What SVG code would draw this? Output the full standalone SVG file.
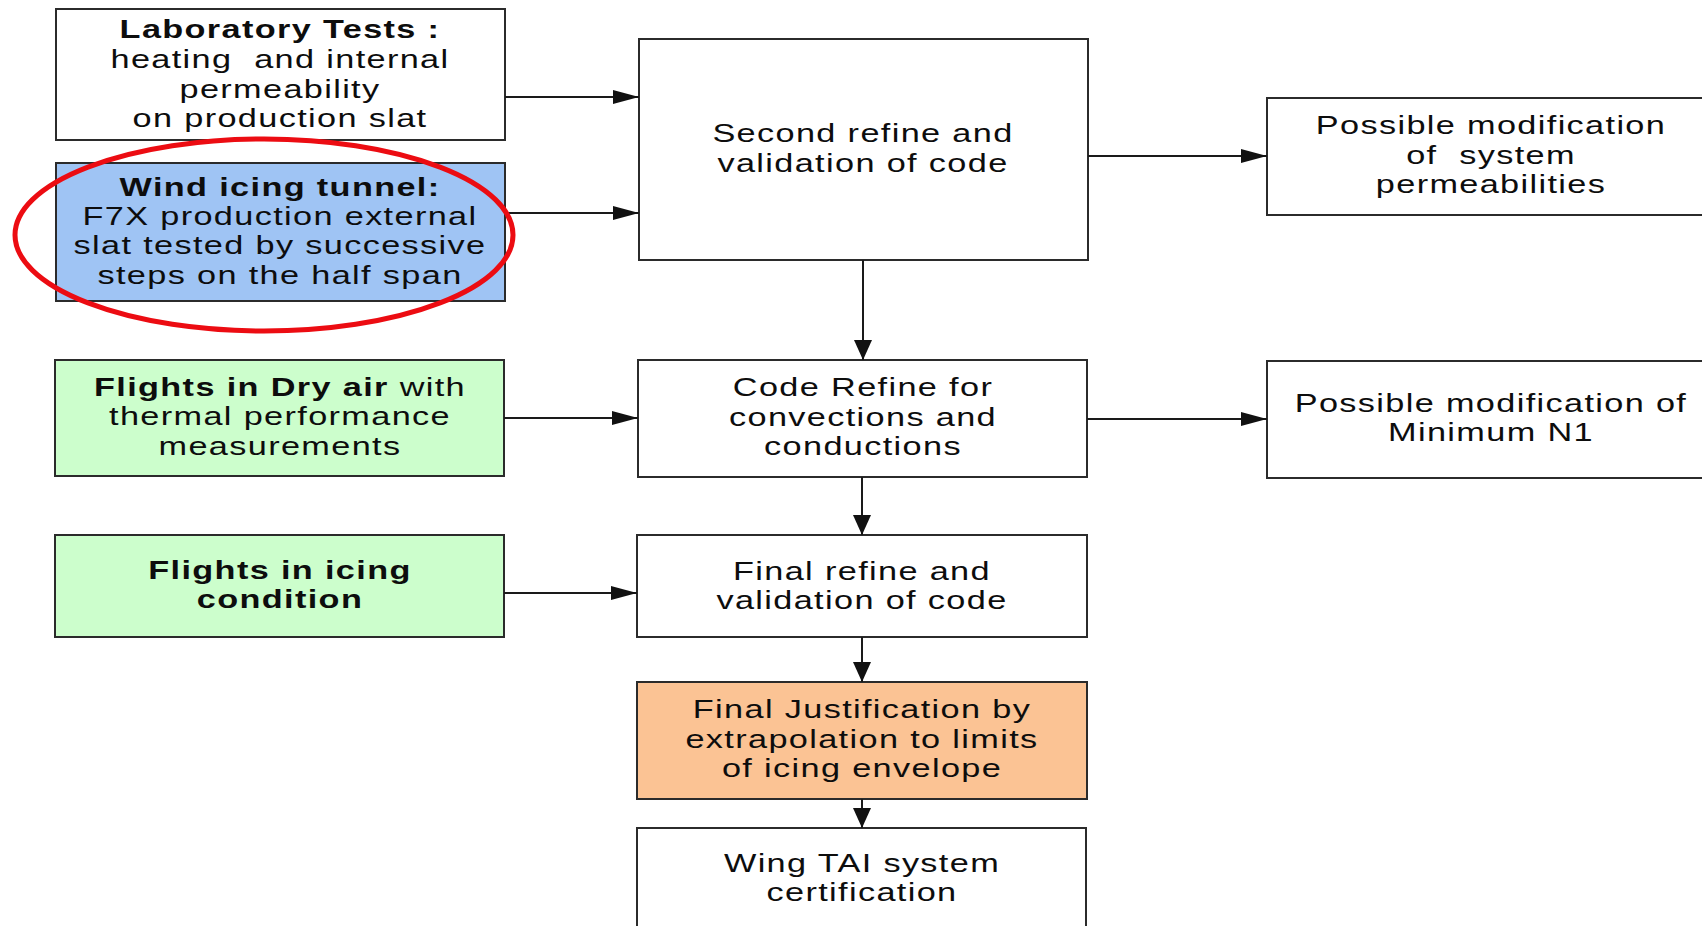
<svg xmlns="http://www.w3.org/2000/svg" width="1702" height="926" viewBox="0 0 1702 926">
<defs>
<style>
.box{stroke:#2b2b2b;stroke-width:2}
.w{fill:#ffffff}
.b{fill:#9fc4f4}
.g{fill:#ccfecc}
.o{fill:#fbc394}
text{font-family:"Liberation Sans",Arial,sans-serif;font-size:25px;fill:#0d0d0d;text-anchor:middle;letter-spacing:1px;white-space:pre}
.bold{font-weight:bold}
.conn line{stroke:#1a1a1a;stroke-width:2}
</style>
<marker id="ah" viewBox="0 0 26 14" refX="26" refY="7" markerWidth="26" markerHeight="14" markerUnits="userSpaceOnUse" orient="auto"><path d="M0,0 L26,7 L0,14 Z" fill="#111"/></marker>
<marker id="av" viewBox="0 0 20 18" refX="20" refY="9" markerWidth="20" markerHeight="18" markerUnits="userSpaceOnUse" orient="auto"><path d="M0,0 L20,9 L0,18 Z" fill="#111"/></marker>
</defs>
<rect width="1702" height="926" fill="#ffffff"/>

<g id="lab">
<rect class="box w" x="56" y="9" width="449" height="131"/>
<g transform="translate(280,0) scale(1.37,1)">
<text class="bold" x="0" y="38">Laboratory Tests :</text>
<text x="0" y="68" xml:space="preserve">heating  and internal</text>
<text x="0" y="98">permeability</text>
<text x="0" y="127">on production slat</text>
</g>
</g>

<g id="wind">
<rect class="box b" x="56" y="163" width="449" height="138"/>
<g transform="translate(280,0) scale(1.37,1)">
<text class="bold" x="0" y="196">Wind icing tunnel:</text>
<text x="0" y="225">F7X production external</text>
<text x="0" y="254">slat tested by successive</text>
<text x="0" y="284">steps on the half span</text>
</g>
</g>

<g id="dry">
<rect class="box g" x="55" y="360" width="449" height="116"/>
<g transform="translate(280,0) scale(1.37,1)">
<text x="0" y="396"><tspan class="bold">Flights in Dry air</tspan> with</text>
<text x="0" y="425">thermal performance</text>
<text x="0" y="455">measurements</text>
</g>
</g>

<g id="icing">
<rect class="box g" x="55" y="535" width="449" height="102"/>
<g transform="translate(280,0) scale(1.37,1)">
<text class="bold" x="0" y="579">Flights in icing</text>
<text class="bold" x="0" y="608">condition</text>
</g>
</g>

<g id="second">
<rect class="box w" x="639" y="39" width="449" height="221"/>
<g transform="translate(863,0) scale(1.37,1)">
<text x="0" y="142">Second refine and</text>
<text x="0" y="172">validation of code</text>
</g>
</g>

<g id="coderefine">
<rect class="box w" x="638" y="360" width="449" height="117"/>
<g transform="translate(863,0) scale(1.37,1)">
<text x="0" y="396">Code Refine for</text>
<text x="0" y="426">convections and</text>
<text x="0" y="455">conductions</text>
</g>
</g>

<g id="finalrefine">
<rect class="box w" x="637" y="535" width="450" height="102"/>
<g transform="translate(862,0) scale(1.37,1)">
<text x="0" y="580">Final refine and</text>
<text x="0" y="609">validation of code</text>
</g>
</g>

<g id="justification">
<rect class="box o" x="637" y="682" width="450" height="117"/>
<g transform="translate(862,0) scale(1.37,1)">
<text x="0" y="718">Final Justification by</text>
<text x="0" y="748">extrapolation to limits</text>
<text x="0" y="777">of icing envelope</text>
</g>
</g>

<g id="wing">
<rect class="box w" x="637" y="828" width="449" height="120"/>
<g transform="translate(862,0) scale(1.37,1)">
<text x="0" y="872">Wing TAI system</text>
<text x="0" y="901">certification</text>
</g>
</g>

<g id="perm">
<rect class="box w" x="1267" y="98" width="460" height="117"/>
<g transform="translate(1491,0) scale(1.37,1)">
<text x="0" y="134">Possible modification</text>
<text x="0" y="164" xml:space="preserve">of  system</text>
<text x="0" y="193">permeabilities</text>
</g>
</g>

<g id="n1">
<rect class="box w" x="1267" y="361" width="460" height="117"/>
<g transform="translate(1491,0) scale(1.37,1)">
<text x="0" y="412">Possible modification of</text>
<text x="0" y="441">Minimum N1</text>
</g>
</g>

<g class="conn">
<line x1="505" y1="97" x2="639" y2="97" marker-end="url(#ah)"/>
<line x1="505" y1="213" x2="639" y2="213" marker-end="url(#ah)"/>
<line x1="504" y1="418" x2="638" y2="418" marker-end="url(#ah)"/>
<line x1="504" y1="593" x2="637" y2="593" marker-end="url(#ah)"/>
<line x1="1088" y1="156" x2="1267" y2="156" marker-end="url(#ah)"/>
<line x1="1087" y1="419" x2="1267" y2="419" marker-end="url(#ah)"/>
<line x1="863" y1="260" x2="863" y2="360" marker-end="url(#av)"/>
<line x1="862" y1="477" x2="862" y2="535" marker-end="url(#av)"/>
<line x1="862" y1="637" x2="862" y2="682" marker-end="url(#av)"/>
<line x1="862" y1="799" x2="862" y2="828" marker-end="url(#av)"/>
</g>

<ellipse id="highlight" cx="264" cy="235" rx="249" ry="96" fill="none" stroke="#ec0c12" stroke-width="5"/>
</svg>
